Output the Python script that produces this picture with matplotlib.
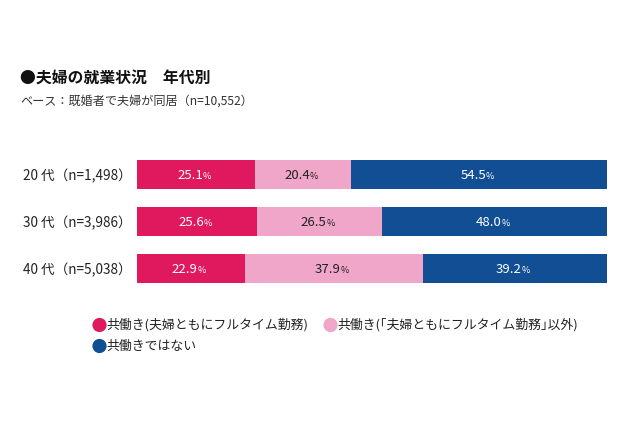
import matplotlib.pyplot as plt
from matplotlib.patches import Circle
import numpy as np

plt.rcParams['font.family'] = ['Noto Sans CJK JP', 'DejaVu Sans']

ages = ['20 代（n=1,498）', '30 代（n=3,986）', '40 代（n=5,038）']
full_both = [25.1, 25.6, 22.9]
part_both = [20.4, 26.5, 37.9]
not_both = [54.5, 48.0, 39.2]

series_names = ['共働き(夫婦ともにフルタイム勤務)',
                '共働き(｢夫婦ともにフルタイム勤務｣以外)',
                '共働きではない']
colors = ['#E0195F', '#F0A6C8', '#114E93']
text_colors = ['white', '#222222', 'white']


def main():
    fig = plt.figure(figsize=(6.4, 4.26), dpi=100)
    ax = fig.add_axes([137 / 640, 143 / 426, 470 / 640, 123 / 426])

    y = np.arange(len(ages))
    h = 29 / 47
    left = np.zeros(len(ages))
    for vals, col, tc in zip([full_both, part_both, not_both], colors, text_colors):
        vals = np.array(vals)
        ax.barh(y, vals, left=left, height=h, color=col, edgecolor='none')
        for yi, l, v in zip(y, left, vals):
            cx = l + v / 2
            ax.annotate(f'{v:.1f}', (cx, yi), xytext=(5, -0.5), textcoords='offset points',
                        ha='right', va='center', fontsize=9.5, color=tc)
            ax.annotate('%', (cx, yi), xytext=(5, -1.5), textcoords='offset points',
                        ha='left', va='center', fontsize=6.5, color=tc)
        left = left + vals

    ax.set_xlim(0, 100)
    ax.set_ylim(len(ages) - 1 + h / 2, -h / 2)
    ax.set_yticks(y)
    ax.set_yticklabels(ages, fontsize=9.8, color='#222222')
    ax.tick_params(axis='y', length=0, pad=4)
    ax.set_xticks([])
    for s in ax.spines.values():
        s.set_visible(False)

    fig.text(20 / 640, 1 - 78 / 426, '●夫婦の就業状況　年代別', fontsize=11.4, fontweight='bold',
             va='center', ha='left', color='#111111')
    fig.text(20 / 640, 1 - 101 / 426, 'ベース：既婚者で夫婦が同居（n=10,552）', fontsize=8.7,
             va='center', ha='left', color='#333333')

    legend_pos = [(99.5, 325), (330.5, 325), (99.5, 346)]
    for (lx, ly), name, col in zip(legend_pos, series_names, colors):
        fig.add_artist(Circle((lx / 100, (426 - ly) / 100), 0.064, color=col,
                              transform=fig.dpi_scale_trans))
        fig.text((lx + 7) / 640, 1 - ly / 426, name, fontsize=9.3, color='#222222',
                 va='center', ha='left')

    fig.savefig('out.png', dpi=100)


if __name__ == '__main__':
    main()
